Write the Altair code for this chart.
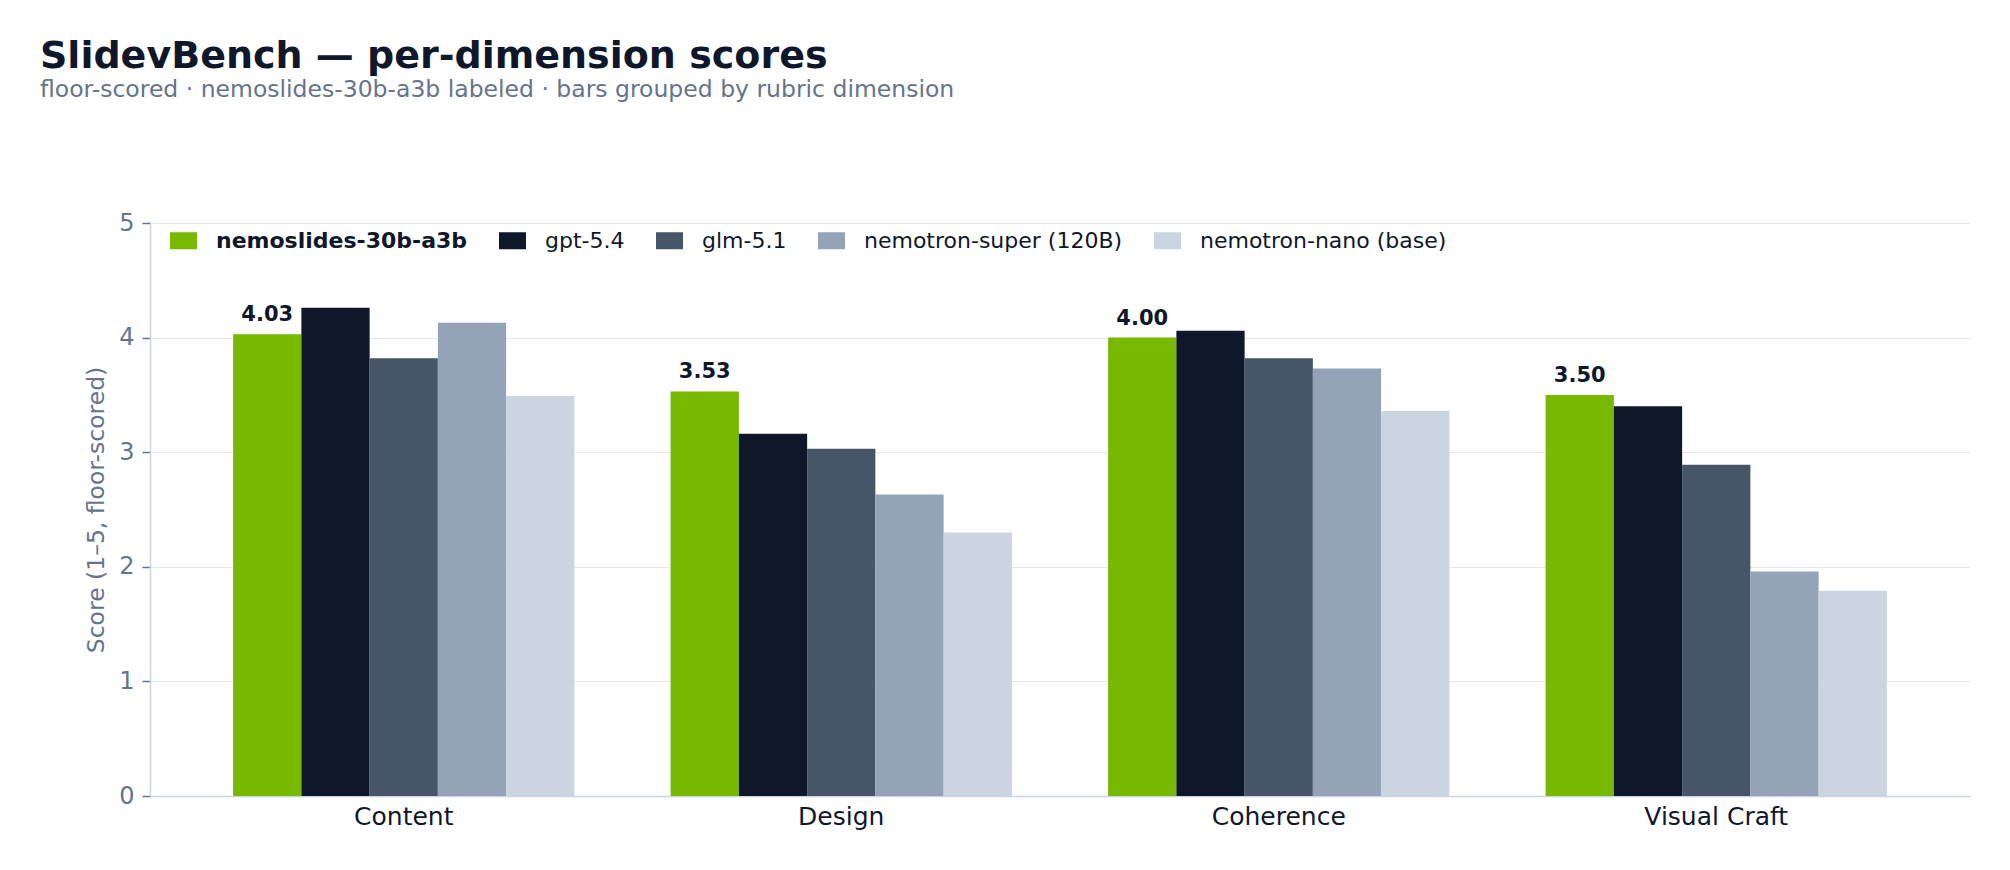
import altair as alt
import pandas as pd

dimensions = ["Content", "Design", "Coherence", "Visual Craft"]
models = [
    "nemoslides-30b-a3b",
    "gpt-5.4",
    "glm-5.1",
    "nemotron-super (120B)",
    "nemotron-nano (base)",
]
colors = ["#76b900", "#0f172a", "#475569", "#94a3b8", "#cbd5e1"]

scores_nemoslides = [4.03, 3.53, 4.00, 3.50]
scores_gpt = [4.26, 3.16, 4.06, 3.40]
scores_glm = [3.82, 3.03, 3.82, 2.89]
scores_super = [4.13, 2.63, 3.73, 1.96]
scores_nano = [3.49, 2.30, 3.36, 1.79]
y_ticks = [0, 1, 2, 3, 4, 5]

series = [scores_nemoslides, scores_gpt, scores_glm, scores_super, scores_nano]
rows = []
for m, vals in zip(models, series):
    for d, v in zip(dimensions, vals):
        rows.append({"dimension": d, "model": m, "score": v})
df = pd.DataFrame(rows)

FONT = "DejaVu Sans"

x_enc = alt.X(
    "dimension:N",
    sort=dimensions,
    scale=alt.Scale(paddingInner=0.22, paddingOuter=0.19),
    axis=alt.Axis(
        title=None,
        labelAngle=0,
        ticks=False,
        grid=False,
        labelFontSize=25,
        labelColor="#0f172a",
        labelPadding=8,
        domainColor="#cbd5e1",
        domainWidth=1.5,
        labelFont=FONT,
    ),
)
xoff_enc = alt.XOffset(
    "model:N", scale=alt.Scale(domain=models, paddingInner=0, paddingOuter=0)
)
y_enc = alt.Y(
    "score:Q",
    scale=alt.Scale(domain=[0, 5], nice=False),
    axis=alt.Axis(
        values=y_ticks,
        format="d",
        title="Score (1–5, floor-scored)",
        titleFontSize=23.5,
        titleFontWeight="normal",
        titleColor="#64748b",
        titleFont=FONT,
        titlePadding=10,
        labelFontSize=24,
        labelColor="#64748b",
        labelFont=FONT,
        labelPadding=8,
        tickSize=8,
        tickColor="#64748b",
        tickWidth=1.5,
        domainColor="#cbd5e1",
        domainWidth=1.5,
        grid=True,
        gridColor="#e5e7eb",
        gridWidth=1,
    ),
)

bars = alt.Chart(df).mark_bar().encode(
    x=x_enc,
    xOffset=xoff_enc,
    y=y_enc,
    color=alt.Color(
        "model:N",
        scale=alt.Scale(domain=models, range=colors),
        legend=alt.Legend(
            title=None,
            orient="none",
            legendX=20,
            legendY=4,
            direction="horizontal",
            symbolType="M-1,-0.63H1V0.63H-1Z",
            symbolSize=729,
            symbolStrokeWidth=0,
            symbolOpacity=1,
            labelFontSize=22,
            labelFont=FONT,
            labelColor="#0f172a",
            labelOffset=19,
            labelLimit=0,
            columnPadding=31,
            labelFontWeight=alt.ExprRef(
                "datum.value === 'nemoslides-30b-a3b' ? 'bold' : 'normal'"
            ),
        ),
    ),
)

labels = (
    alt.Chart(df)
    .transform_filter(alt.datum.model == models[0])
    .mark_text(
        font=FONT,
        fontSize=21,
        fontWeight="bold",
        color="#0f172a",
        baseline="alphabetic",
        dy=-13,
    )
    .encode(
        x=alt.X("dimension:N", sort=dimensions),
        xOffset=alt.XOffset("model:N"),
        y=alt.Y("score:Q"),
        text=alt.Text("score:Q", format=".2f"),
    )
)

chart = (
    alt.layer(bars, labels)
    .properties(
        width=1820,
        height=573,
        autosize="none",
        padding={"left": 142, "top": 215, "right": 32, "bottom": 66},
        title=alt.TitleParams(
            text="SlidevBench — per-dimension scores",
            subtitle="floor-scored · nemoslides-30b-a3b labeled · bars grouped by rubric dimension",
            anchor="start",
            frame="group",
            dx=-110,
            offset=110,
            font=FONT,
            fontSize=38,
            fontWeight="bold",
            color="#0f172a",
            subtitleFont=FONT,
            subtitleFontSize=23.5,
            subtitleColor="#64748b",
            subtitlePadding=2,
        ),
    )
    .configure_view(stroke=None)
)

chart.save("out.html", embed_options={"renderer": "svg", "actions": False})
